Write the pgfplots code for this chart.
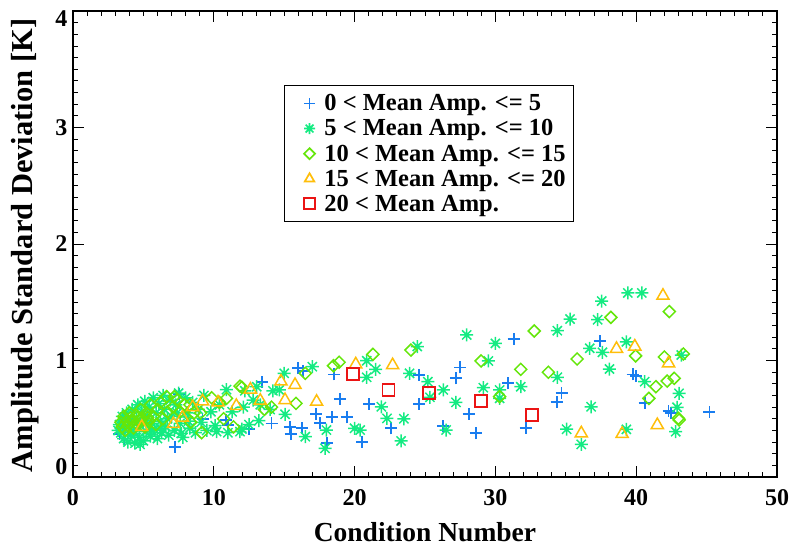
\documentclass[border=0pt]{standalone}
\usepackage{pgfplots}
\pgfplotsset{compat=1.18}
\usepackage{fontspec}
\setmainfont{Liberation Serif}
\definecolor{cplus}{RGB}{25,125,240}
\definecolor{cast}{RGB}{20,235,130}
\definecolor{cdia}{RGB}{100,230,10}
\definecolor{ctri}{RGB}{255,190,10}
\definecolor{csq}{RGB}{235,20,20}
\pgfdeclareplotmark{ast8}{%
  \pgfpathmoveto{\pgfqpoint{-\pgfplotmarksize}{0pt}}\pgfpathlineto{\pgfqpoint{\pgfplotmarksize}{0pt}}%
  \pgfpathmoveto{\pgfqpoint{0pt}{-\pgfplotmarksize}}\pgfpathlineto{\pgfqpoint{0pt}{\pgfplotmarksize}}%
  \pgfpathmoveto{\pgfqpoint{-0.707\pgfplotmarksize}{-0.707\pgfplotmarksize}}\pgfpathlineto{\pgfqpoint{0.707\pgfplotmarksize}{0.707\pgfplotmarksize}}%
  \pgfpathmoveto{\pgfqpoint{-0.707\pgfplotmarksize}{0.707\pgfplotmarksize}}\pgfpathlineto{\pgfqpoint{0.707\pgfplotmarksize}{-0.707\pgfplotmarksize}}%
  \pgfusepathqstroke}
\pgfdeclareplotmark{dia}{%
  \pgfpathmoveto{\pgfqpoint{0pt}{\pgfplotmarksize}}\pgfpathlineto{\pgfqpoint{\pgfplotmarksize}{0pt}}%
  \pgfpathlineto{\pgfqpoint{0pt}{-\pgfplotmarksize}}\pgfpathlineto{\pgfqpoint{-\pgfplotmarksize}{0pt}}\pgfpathclose%
  \pgfusepathqstroke}
\pgfdeclareplotmark{pl}{%
  \pgfpathmoveto{\pgfqpoint{-\pgfplotmarksize}{0pt}}\pgfpathlineto{\pgfqpoint{\pgfplotmarksize}{0pt}}%
  \pgfpathmoveto{\pgfqpoint{0pt}{-\pgfplotmarksize}}\pgfpathlineto{\pgfqpoint{0pt}{\pgfplotmarksize}}%
  \pgfusepathqstroke}
\begin{document}
\begin{tikzpicture}
\begin{axis}[
  scale only axis, width=704bp, height=466bp,
  xmin=0, xmax=50, ymin=0, ymax=4,
  xtick={0,10,20,30,40,50}, ytick={0,1,2,3,4},
  minor x tick num=9, minor y tick num=9,
  tick align=inside, xtick pos=both, ytick pos=both,
  major tick length=11bp, minor tick length=5bp,
  axis line style={line width=1.1bp}, every tick/.style={black, line width=0.9bp},
  /pgf/number format/assume math mode=true,
  xticklabel style={font=\fontsize{24bp}{28bp}\selectfont\bfseries},
  yticklabel style={font=\fontsize{24bp}{28bp}\selectfont\bfseries},
  yticklabels={\smash{\raisebox{3bp}{0}},1,2,3,\smash{\raisebox{-15bp}{4}}},
  xticklabel shift=9bp, yticklabel shift=2bp,
  xlabel={Condition Number}, ylabel={Amplitude Standard Deviation [K]},
  xlabel style={font=\fontsize{27.5bp}{30bp}\selectfont\bfseries, at={(axis description cs:0.5,-0.118)}, anchor=center},
  ylabel style={font=\fontsize{30.5bp}{32bp}\selectfont\bfseries, at={(axis description cs:-0.068,0.497)}, anchor=center},
  legend style={at={(axis description cs:0.30,0.841)}, anchor=north west, draw=black, line width=1bp,
    font=\fontsize{24.5bp}{26bp}\selectfont\bfseries, inner xsep=6bp, inner ysep=9bp, row sep=7.3bp,
    nodes={inner ysep=0bp}},
  legend cell align=left,
  legend image post style={mark size=5.5bp, line width=1.7bp},
  legend image code/.code={\path (-18bp,0bp) (12bp,0bp); \draw[#1] plot coordinates {(0bp,0bp)};},
]
% blue plus
\addplot[only marks, mark=pl, mark size=6bp, cplus, line width=1.8bp] coordinates {
(45.2,0.56)(42.3,0.57)(42.45,0.55)(39.75,0.88)(40.0,0.865)(40.6,0.638)(37.4,1.17)(34.7,0.724)(34.35,0.646)
(31.3,1.185)(27.5,0.94)(27.2,0.847)(30.9,0.804)(28.1,0.541)(28.6,0.375)(26.3,0.44)(32.15,0.423)(24.6,0.876)(24.6,0.627)
(16.36,0.912)(16.0,0.935)(18.56,0.88)(13.4,0.818)(18.96,0.67)(21.05,0.627)(17.26,0.54)(18.37,0.518)(19.44,0.512)(14.1,0.46)
(12.5,0.412)(15.4,0.43)(16.24,0.418)(17.54,0.466)(15.46,0.369)(18.06,0.289)(20.55,0.303)(22.6,0.418)
(7.24,0.26)(11.03,0.446)(3.3,0.37)(3.6,0.33)(7.55,0.71)(10.87,0.49)(9.2,0.50)(5.5,0.40)
};
\addlegendentry{0 < Mean Amp. <= 5}
% green asterisk
\addplot[only marks, mark=ast8, mark size=6.5bp, cast, line width=1.5bp] coordinates {
(39.4,1.58)(40.4,1.58)(37.55,1.51)(37.26,1.35)(35.3,1.356)(34.4,1.256)(39.3,1.16)(36.7,1.105)(37.6,1.07)(43.2,1.047)
(38.1,0.927)(40.6,0.818)(43.04,0.718)(42.9,0.598)(42.8,0.389)(39.3,0.409)(36.8,0.603)(35.06,0.41)(36.1,0.28)
(27.96,1.219)(30.0,1.147)(29.5,0.996)(34.4,0.856)(31.8,0.775)(30.3,0.747)(30.3,0.675)(29.14,0.767)(26.3,0.747)(27.2,0.641)
(26.5,0.403)(24.45,1.12)(23.9,0.89)(25.2,0.818)(23.5,0.50)(23.3,0.31)(25.35,0.684)
(15.0,0.89)(17.0,0.947)(20.86,0.998)(21.5,0.924)(20.86,0.856)(14.65,0.747)(13.05,0.775)(12.8,0.66)(15.06,0.538)(13.2,0.483)
(21.9,0.603)(22.3,0.503)(18.0,0.403)(16.5,0.346)(20.0,0.418)(20.4,0.403)(17.9,0.246)(12.0,0.412)
(3.3,0.45)(3.4,0.38)(3.5,0.52)(3.6,0.33)(3.7,0.42)(3.8,0.55)(3.9,0.30)(4.0,0.47)(4.1,0.36)(4.2,0.58)(4.3,0.40)(4.4,0.29)
(4.5,0.50)(4.6,0.62)(4.7,0.34)(4.8,0.44)(4.9,0.56)(5.0,0.31)(5.1,0.65)(5.2,0.39)(5.3,0.52)(5.4,0.60)(5.5,0.35)(5.6,0.46)
(5.7,0.68)(5.8,0.41)(5.9,0.55)(6.0,0.33)(6.1,0.63)(6.2,0.48)(6.3,0.38)(6.4,0.70)(6.5,0.58)(6.6,0.43)(6.8,0.36)(6.9,0.66)
(7.0,0.52)(7.2,0.40)(7.3,0.62)(7.5,0.72)(7.6,0.46)(7.8,0.34)(8.0,0.68)(8.1,0.55)(8.3,0.42)(8.5,0.64)(8.7,0.38)(8.9,0.58)
(9.1,0.47)(9.3,0.70)(9.5,0.40)(9.8,0.56)(10.1,0.44)(10.4,0.62)(10.9,0.75)(11.0,0.38)(11.3,0.56)(11.86,0.39)(12.1,0.60)
(12.2,0.74)(12.5,0.45)(13.3,0.62)(14.0,0.58)(14.2,0.74)(4.76,0.28)(7.7,0.375)(10.2,0.39)
(3.2,0.40)(3.5,0.44)(3.9,0.50)(4.4,0.37)(5.0,0.47)(5.6,0.40)(6.2,0.42)(6.7,0.50)(7.4,0.55)(8.2,0.48)
};
\addlegendentry{5 < Mean Amp. <= 10}
% diamonds
\addplot[only marks, mark=dia, mark size=6bp, cdia, line width=1.5bp] coordinates {
(38.2,1.37)(42.35,1.42)(39.96,1.04)(42.0,1.03)(43.35,1.056)(42.7,0.847)(42.2,0.824)(41.4,0.775)(40.9,0.675)(43.0,0.504)(43.05,0.49)
(35.8,1.013)(32.76,1.253)(28.98,0.996)(31.8,0.924)(33.76,0.899)(30.3,0.69)(24.0,1.09)(18.5,0.955)(18.9,0.985)(21.3,1.053)
(16.5,0.89)(15.84,0.632)(14.1,0.60)(13.6,0.58)(12.0,0.77)(11.86,0.78)
(3.4,0.47)(3.6,0.52)(3.7,0.40)(3.9,0.44)(4.0,0.55)(4.2,0.48)(4.3,0.42)(4.5,0.53)(4.6,0.45)(4.8,0.58)(4.9,0.50)(5.1,0.43)
(5.2,0.55)(5.4,0.48)(5.5,0.62)(5.7,0.52)(5.9,0.45)(6.0,0.58)(6.2,0.64)(6.4,0.50)(6.65,0.69)(6.7,0.56)(7.2,0.69)(7.1,0.60)
(7.4,0.66)(7.6,0.56)(7.9,0.62)(8.36,0.47)(8.3,0.62)(8.6,0.55)(9.14,0.38)(9.07,0.55)(9.85,0.68)(10.4,0.64)(10.7,0.50)
(10.9,0.675)(11.4,0.43)(3.5,0.43)(4.1,0.51)(4.7,0.49)(5.3,0.51)(3.8,0.48)
};
\addlegendentry{10 < Mean Amp. <= 15}
% triangles
\addplot[only marks, mark=triangle, mark size=7bp, ctri, line width=1.5bp] coordinates {
(4.88,0.43)(7.13,0.455)(7.77,0.51)(8.5,0.6)(9.2,0.65)(10.3,0.64)(11.6,0.61)(12.6,0.75)(13.3,0.655)(14.77,0.82)(15.06,0.66)
(15.77,0.79)(17.3,0.646)(20.08,0.967)(22.7,0.96)(36.1,0.375)(38.6,1.10)(39.9,1.12)(39.0,0.37)(41.9,1.556)(42.3,0.976)(41.5,0.446)
};
\addlegendentry{15 < Mean Amp. <= 20}
% squares
\addplot[only marks, mark=square, mark size=6bp, csq, line width=1.6bp] coordinates {
(19.9,0.884)(22.4,0.747)(25.3,0.721)(28.96,0.652)(32.6,0.53)
};
\addlegendentry{20 < Mean Amp.}
\coordinate (ll) at (rel axis cs:0,0);
\coordinate (ur) at (rel axis cs:1,1);
\end{axis}
\pgfresetboundingbox
\path ([shift={(-73bp,-72bp)}]ll) rectangle ([shift={(15bp,11bp)}]ur);
\end{tikzpicture}
\end{document}
